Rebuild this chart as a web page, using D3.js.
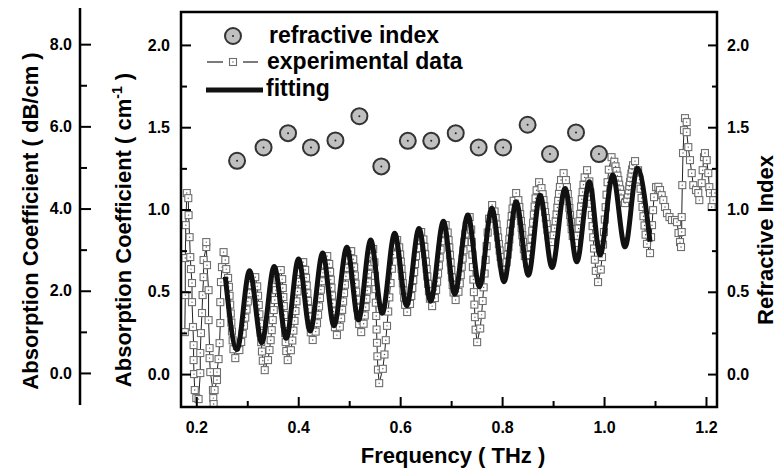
<!DOCTYPE html>
<html>
<head>
<meta charset="utf-8">
<script src="https://d3js.org/d3.v7.min.js"></script>
<style>
  body { margin: 0; background: #fff; }
  svg text { font-family: "Liberation Sans", Arial, sans-serif; font-weight: bold; fill: #000; }
</style>
</head>
<body>
<div id="chart"></div>
<script>
// tick values
const xTicks = [0.2, 0.4, 0.6, 0.8, 1.0, 1.2];
const xMinorTicks = [0.3, 0.5, 0.7, 0.9, 1.1];
const absTicks = [0.0, 0.5, 1.0, 1.5, 2.0];
const absMinorTicks = [0.25, 0.75, 1.25, 1.75];
const dbTicks = [0, 2, 4, 6, 8];
const dbMinorTicks = [1, 3, 5, 7];

// refractive index (circles)
const refFreq = [0.280, 0.332, 0.380, 0.425, 0.473, 0.520, 0.563, 0.615, 0.661, 0.709,
  0.754, 0.802, 0.850, 0.894, 0.945, 0.990];
const refIndex = [1.296, 1.377, 1.464, 1.377, 1.420, 1.567, 1.262, 1.417, 1.417, 1.464,
  1.377, 1.377, 1.515, 1.337, 1.468, 1.337];

// fitting curve, peaks and troughs
const fitFreq = [0.2569, 0.2798, 0.3045, 0.3284, 0.3529, 0.3765, 0.4006, 0.4235, 0.4480, 0.4700,
  0.4955, 0.5182, 0.5422, 0.5647, 0.5892, 0.6127, 0.6369, 0.6598, 0.6849, 0.7069,
  0.7329, 0.7555, 0.7798, 0.8039, 0.8275, 0.8516, 0.8745, 0.8980, 0.9235, 0.9465,
  0.9712, 0.9922, 1.0171, 1.0412, 1.0653, 1.0902];
const fitAbs = [0.591, 0.149, 0.628, 0.191, 0.654, 0.217, 0.700, 0.262, 0.735, 0.293,
  0.770, 0.328, 0.814, 0.369, 0.855, 0.416, 0.885, 0.443, 0.928, 0.486,
  0.966, 0.530, 1.007, 0.561, 1.047, 0.601, 1.087, 0.647, 1.128, 0.682,
  1.168, 0.723, 1.209, 0.773, 1.250, 0.804];

// experimental data (squares)
const expFreq = [
  0.1775,0.1784,0.1784,0.1794,0.1814,0.1843,0.1849,0.1869,0.1882,0.1896,0.1916,0.1916,0.1935,0.1947,0.1947,0.1955,0.1970,0.2000,0.2045,
  0.2078,0.2078,0.2092,0.2112,0.2124,0.2143,0.2143,0.2196,0.2196,
  0.2210,0.2241,0.2241,0.2261,0.2261,0.2275,0.2327,0.2333,0.2340,
  0.2359,0.2406,0.2406,0.2437,0.2457,0.2471,0.2471,0.2484,0.2504,0.2535,0.2569,0.2588,
  0.2624,0.2640,0.2653,0.2665,0.2677,0.2688,0.2700,0.2713,0.2729,0.2765,
  0.2845,0.2881,0.2910,0.2936,0.2961,0.2986,0.3012,0.3041,0.3077,0.3157,
  0.3195,0.3212,0.3226,0.3238,0.3250,0.3262,0.3274,0.3288,0.3305,0.3343,
  0.3407,0.3436,0.3459,0.3480,0.3500,0.3520,0.3541,0.3564,0.3593,0.3657,
  0.3685,0.3697,0.3708,0.3717,0.3726,0.3734,0.3743,0.3754,0.3766,0.3794,
  0.3856,0.3884,0.3906,0.3927,0.3946,0.3965,0.3986,0.4008,0.4036,0.4098,
  0.4136,0.4153,0.4167,0.4179,0.4191,0.4203,0.4215,0.4229,0.4246,0.4284,
  0.4342,0.4368,0.4389,0.4408,0.4427,0.4445,0.4464,0.4485,0.4511,0.4569,
  0.4608,0.4625,0.4639,0.4652,0.4664,0.4676,0.4689,0.4703,0.4720,0.4759,
  0.4816,0.4842,0.4862,0.4881,0.4899,0.4917,0.4936,0.4956,0.4982,0.5039,
  0.5079,0.5097,0.5111,0.5124,0.5137,0.5150,0.5163,0.5177,0.5195,0.5235,
  0.5283,0.5305,0.5322,0.5338,0.5353,0.5368,0.5384,0.5401,0.5423,0.5471,
  0.5495,0.5506,0.5514,0.5522,0.5530,0.5537,0.5545,0.5553,0.5564,0.5588,
  0.5660,0.5692,0.5718,0.5742,0.5765,0.5787,0.5811,0.5837,0.5869,0.5941,
  0.5981,0.5999,0.6013,0.6026,0.6039,0.6052,0.6065,0.6079,0.6097,0.6137,
  0.6193,0.6218,0.6238,0.6257,0.6275,0.6292,0.6311,0.6331,0.6356,0.6412,
  0.6456,0.6475,0.6491,0.6506,0.6520,0.6533,0.6548,0.6564,0.6583,0.6627,
  0.6681,0.6705,0.6725,0.6743,0.6760,0.6776,0.6794,0.6814,0.6838,0.6892,
  0.6932,0.6950,0.6964,0.6977,0.6990,0.7003,0.7016,0.7030,0.7048,0.7088,
  0.7144,0.7169,0.7189,0.7208,0.7226,0.7243,0.7262,0.7282,0.7307,0.7363,
  0.7393,0.7406,0.7417,0.7427,0.7437,0.7446,0.7456,0.7467,0.7480,0.7510,
  0.7570,0.7597,0.7618,0.7638,0.7657,0.7676,0.7696,0.7717,0.7744,0.7804,
  0.7852,0.7873,0.7891,0.7906,0.7922,0.7937,0.7952,0.7970,0.7991,0.8039,
  0.8087,0.8109,0.8126,0.8142,0.8157,0.8172,0.8188,0.8205,0.8227,0.8275,
  0.8319,0.8338,0.8354,0.8369,0.8383,0.8396,0.8411,0.8427,0.8446,0.8490,
  0.8538,0.8559,0.8577,0.8592,0.8608,0.8623,0.8638,0.8656,0.8677,0.8725,
  0.8773,0.8795,0.8812,0.8828,0.8843,0.8858,0.8874,0.8891,0.8913,0.8961,
  0.9011,0.9033,0.9051,0.9068,0.9084,0.9099,0.9116,0.9134,0.9156,0.9206,
  0.9252,0.9272,0.9289,0.9304,0.9319,0.9333,0.9348,0.9365,0.9385,0.9431,
  0.9479,0.9501,0.9518,0.9534,0.9549,0.9564,0.9580,0.9597,0.9619,0.9667,
  0.9711,0.9730,0.9746,0.9761,0.9775,0.9788,0.9803,0.9819,0.9838,0.9882,
  0.9936,0.9960,0.9980,0.9998,1.0015,1.0031,1.0049,1.0069,1.0093,1.0147,
  1.0201,1.0225,1.0245,1.0263,1.0280,1.0296,1.0314,1.0334,1.0358,1.0412,
  1.0452,1.0470,1.0484,1.0497,1.0510,1.0523,1.0536,1.0550,1.0568,1.0608,
  1.0668,1.0695,1.0716,1.0736,1.0755,1.0774,1.0794,1.0815,1.0842,1.0902,
  1.0922,1.0941,1.0961,1.0980,1.1020,1.1065,1.1098,1.1131,1.1163,1.1196,
  1.1235,1.1284,1.1333,1.1392,1.1431,1.1461,1.1490,1.1510,1.1524,1.1524,
  1.1535,1.1549,1.1569,1.1588,1.1621,1.1621,1.1653,1.1686,1.1720,1.1751,
  1.1804,1.1849,1.1869,1.1916,1.1935,1.1961,1.1980,1.2014,1.2045,1.2065,
  1.2078,1.2112,1.2143,1.2176
];
const expAbs = [
  0.255,0.480,0.705,0.905,1.100,1.069,0.966,0.832,0.711,0.638,0.553,0.437,0.286,0.176,0.085,0.000,-0.097,-0.146,-0.152,
  0.006,0.128,0.249,0.371,0.480,0.589,0.693,0.772,0.802,
  0.662,0.510,0.328,0.158,0.097,0.012,-0.097,-0.146,-0.182,
  -0.097,-0.036,0.012,0.091,0.188,0.310,0.437,0.559,0.650,0.741,0.693,0.638,
  0.584,0.530,0.476,0.422,0.368,0.313,0.259,0.205,0.151,0.097,
  0.146,0.195,0.245,0.294,0.343,0.392,0.441,0.491,0.540,0.589,
  0.533,0.476,0.420,0.363,0.307,0.250,0.194,0.137,0.081,0.024,
  0.085,0.146,0.206,0.267,0.328,0.389,0.450,0.510,0.571,0.632,
  0.577,0.523,0.468,0.413,0.359,0.304,0.249,0.194,0.140,0.085,
  0.145,0.204,0.264,0.323,0.383,0.442,0.502,0.561,0.621,0.680,
  0.633,0.585,0.538,0.491,0.444,0.396,0.349,0.302,0.254,0.207,
  0.258,0.309,0.360,0.411,0.462,0.513,0.564,0.615,0.666,0.717,
  0.669,0.621,0.573,0.525,0.477,0.429,0.381,0.333,0.285,0.237,
  0.288,0.339,0.390,0.441,0.492,0.543,0.594,0.645,0.696,0.747,
  0.698,0.649,0.599,0.550,0.501,0.452,0.403,0.354,0.304,0.255,
  0.306,0.356,0.407,0.457,0.508,0.558,0.609,0.659,0.710,0.760,
  0.679,0.597,0.516,0.434,0.353,0.271,0.190,0.108,0.027,-0.055,
  0.032,0.119,0.206,0.293,0.380,0.466,0.553,0.640,0.727,0.814,
  0.770,0.727,0.683,0.639,0.596,0.552,0.508,0.464,0.421,0.377,
  0.426,0.474,0.523,0.571,0.620,0.669,0.717,0.766,0.814,0.863,
  0.818,0.773,0.728,0.683,0.638,0.593,0.548,0.503,0.458,0.413,
  0.462,0.511,0.561,0.610,0.659,0.708,0.757,0.807,0.856,0.905,
  0.860,0.814,0.769,0.723,0.678,0.632,0.587,0.541,0.496,0.450,
  0.500,0.551,0.601,0.652,0.702,0.752,0.803,0.853,0.904,0.954,
  0.878,0.802,0.726,0.650,0.574,0.498,0.422,0.346,0.270,0.194,
  0.277,0.360,0.444,0.527,0.611,0.694,0.777,0.860,0.944,1.027,
  0.988,0.948,0.909,0.869,0.830,0.790,0.751,0.711,0.672,0.632,
  0.679,0.726,0.772,0.819,0.866,0.913,0.960,1.006,1.053,1.100,
  1.057,1.015,0.972,0.930,0.887,0.844,0.802,0.759,0.717,0.674,
  0.723,0.772,0.822,0.871,0.920,0.969,1.018,1.068,1.117,1.166,
  1.130,1.093,1.057,1.020,0.984,0.948,0.911,0.875,0.838,0.802,
  0.844,0.886,0.928,0.970,1.012,1.053,1.095,1.137,1.179,1.221,
  1.179,1.136,1.094,1.051,1.009,0.966,0.924,0.881,0.839,0.796,
  0.840,0.885,0.929,0.973,1.018,1.062,1.106,1.150,1.195,1.239,
  1.171,1.103,1.035,0.967,0.899,0.831,0.763,0.695,0.627,0.559,
  0.635,0.711,0.787,0.863,0.939,1.014,1.090,1.166,1.242,1.318,
  1.290,1.262,1.234,1.206,1.179,1.151,1.123,1.095,1.067,1.039,
  1.065,1.090,1.116,1.141,1.167,1.192,1.218,1.243,1.269,1.294,
  1.238,1.182,1.126,1.070,1.015,0.959,0.903,0.847,0.791,0.735,
  0.832,0.905,0.996,1.075,1.136,1.138,1.118,1.087,1.057,1.015,
  0.978,0.954,0.936,0.936,0.923,0.857,0.802,0.772,0.863,0.954,
  1.148,1.343,1.482,1.555,1.531,1.470,1.379,1.300,1.221,1.148,
  1.118,1.100,1.057,1.160,1.239,1.318,1.343,1.300,1.221,1.136,
  1.100,1.015,1.057,1.100
];

const W = 782, H = 474;
const plot = { left: 181, top: 12, right: 717, bottom: 407 };
const FONT = '"Liberation Sans", Arial, sans-serif';

const svg = d3.select('#chart').append('svg')
  .attr('width', W)
  .attr('height', H);

const x = d3.scaleLinear().domain([0.17, 1.2216]).range([plot.left, plot.right]);
const yAbs = d3.scaleLinear().domain([-0.2, 2.2]).range([plot.bottom, plot.top]);
const yRef = d3.scaleLinear().domain([-0.2, 2.2]).range([plot.bottom, plot.top]);
const yDb = d3.scaleLinear().domain([-0.78, 8.88]).range([405, 8]);

function styleAxis(g) {
  g.attr('font-size', 16).attr('font-family', FONT).attr('font-weight', 'bold');
  g.select('path.domain').remove();
  g.selectAll('line').attr('stroke', '#000').attr('stroke-width', 2);
}

// clip for data
svg.append('clipPath').attr('id', 'clip')
  .append('rect')
  .attr('x', plot.left).attr('y', plot.top)
  .attr('width', plot.right - plot.left).attr('height', plot.bottom - plot.top);

const data = svg.append('g').attr('clip-path', 'url(#clip)');

// experimental data
const expPts = expFreq.map((f, i) => ({ f: f, v: expAbs[i] }));

data.append('path')
  .datum(expPts)
  .attr('fill', 'none')
  .attr('stroke', '#222')
  .attr('stroke-width', 1)
  .attr('d', d3.line().x(d => x(d.f)).y(d => yAbs(d.v)));

const sq = 7;
const squares = data.append('g').selectAll('g').data(expPts).join('g')
  .attr('transform', d => `translate(${x(d.f)},${yAbs(d.v)})`);
squares.append('rect')
  .attr('x', -sq / 2).attr('y', -sq / 2)
  .attr('width', sq).attr('height', sq)
  .attr('fill', '#fff')
  .attr('stroke', '#6e6e6e')
  .attr('stroke-width', 1.1);
squares.append('circle')
  .attr('r', 0.7)
  .attr('fill', '#555');

// fitting
const fitPts = fitFreq.map((f, i) => ({ f: f, v: fitAbs[i] }));
data.append('path')
  .datum(fitPts)
  .attr('fill', 'none')
  .attr('stroke', '#111')
  .attr('stroke-width', 5)
  .attr('stroke-linejoin', 'round')
  .attr('d', d3.line().curve(d3.curveMonotoneX).x(d => x(d.f)).y(d => yAbs(d.v)));

// refractive index
const refPts = refFreq.map((f, i) => ({ f: f, v: refIndex[i] }));
const circ = data.append('g').selectAll('g').data(refPts).join('g')
  .attr('transform', d => `translate(${x(d.f)},${yRef(d.v)})`);
circ.append('circle')
  .attr('r', 8)
  .attr('fill', '#c0c0c0')
  .attr('stroke', '#333')
  .attr('stroke-width', 2);
circ.append('circle')
  .attr('r', 1)
  .attr('fill', '#222');

// axes
svg.append('g')
  .attr('transform', `translate(0,${plot.bottom})`)
  .call(d3.axisBottom(x).tickValues(xTicks).tickFormat(d3.format('.1f')).tickSize(-10).tickPadding(15))
  .call(styleAxis);
svg.append('g')
  .attr('transform', `translate(0,${plot.bottom})`)
  .call(d3.axisBottom(x).tickValues(xMinorTicks).tickFormat('').tickSize(-6))
  .call(styleAxis);

svg.append('g')
  .attr('transform', `translate(${plot.left},0)`)
  .call(d3.axisLeft(yAbs).tickValues(absTicks).tickFormat(d3.format('.1f')).tickSize(-10).tickPadding(11))
  .call(styleAxis);
svg.append('g')
  .attr('transform', `translate(${plot.left},0)`)
  .call(d3.axisLeft(yAbs).tickValues(absMinorTicks).tickFormat('').tickSize(-6))
  .call(styleAxis);

svg.append('g')
  .attr('transform', `translate(${plot.right},0)`)
  .call(d3.axisRight(yRef).tickValues(absTicks).tickFormat(d3.format('.1f')).tickSize(-9).tickPadding(10))
  .call(styleAxis);
svg.append('g')
  .attr('transform', `translate(${plot.right},0)`)
  .call(d3.axisRight(yRef).tickValues(absMinorTicks).tickFormat('').tickSize(-5))
  .call(styleAxis);

// outer dB/cm axis
const dbX = 80;
svg.append('line')
  .attr('x1', dbX).attr('x2', dbX)
  .attr('y1', yDb.range()[0]).attr('y2', yDb.range()[1])
  .attr('stroke', '#000').attr('stroke-width', 2.5);
svg.append('g')
  .attr('transform', `translate(${dbX},0)`)
  .call(d3.axisLeft(yDb).tickValues(dbTicks).tickFormat(d3.format('.1f')).tickSize(-11).tickPadding(8))
  .call(styleAxis);
svg.append('g')
  .attr('transform', `translate(${dbX},0)`)
  .call(d3.axisLeft(yDb).tickValues(dbMinorTicks).tickFormat('').tickSize(-7))
  .call(styleAxis);

// frame
svg.append('rect')
  .attr('x', plot.left).attr('y', plot.top)
  .attr('width', plot.right - plot.left).attr('height', plot.bottom - plot.top)
  .attr('fill', 'none')
  .attr('stroke', '#000')
  .attr('stroke-width', 2.5);

// axis titles
svg.append('text')
  .attr('x', 453).attr('y', 463)
  .attr('text-anchor', 'middle')
  .attr('font-size', 22)
  .text('Frequency ( THz )');

svg.append('text')
  .attr('transform', 'translate(38,221) rotate(-90)')
  .attr('text-anchor', 'middle')
  .attr('font-size', 22)
  .text('Absorption Coefficient ( dB/cm )');

const t2 = svg.append('text')
  .attr('transform', 'translate(131,230) rotate(-90)')
  .attr('text-anchor', 'middle')
  .attr('font-size', 22);
t2.append('tspan').text('Absorption Coefficient ( cm');
t2.append('tspan').attr('font-size', 14).attr('dy', -9).text('-1');
t2.append('tspan').attr('dy', 9).text(' )');

svg.append('text')
  .attr('transform', 'translate(773,240) rotate(-90)')
  .attr('text-anchor', 'middle')
  .attr('font-size', 22)
  .text('Refractive Index');

// legend
const leg = svg.append('g').attr('font-size', 23);
leg.append('circle').attr('cx', 233).attr('cy', 36).attr('r', 8)
  .attr('fill', '#c0c0c0').attr('stroke', '#333').attr('stroke-width', 2);
leg.append('circle').attr('cx', 233).attr('cy', 36).attr('r', 1).attr('fill', '#222');
leg.append('text').attr('x', 269).attr('y', 42.5).text('refractive index');

leg.append('line').attr('x1', 207).attr('x2', 223).attr('y1', 62).attr('y2', 62)
  .attr('stroke', '#222').attr('stroke-width', 1.2);
leg.append('line').attr('x1', 243).attr('x2', 258).attr('y1', 62).attr('y2', 62)
  .attr('stroke', '#222').attr('stroke-width', 1.2);
leg.append('rect').attr('x', 233 - sq / 2).attr('y', 62 - sq / 2).attr('width', sq).attr('height', sq)
  .attr('fill', '#fff').attr('stroke', '#6e6e6e').attr('stroke-width', 1.1);
leg.append('circle').attr('cx', 233).attr('cy', 62).attr('r', 0.7).attr('fill', '#555');
leg.append('text').attr('x', 267).attr('y', 69).text('experimental data');

leg.append('line').attr('x1', 206).attr('x2', 263).attr('y1', 90).attr('y2', 90)
  .attr('stroke', '#111').attr('stroke-width', 5);
leg.append('text').attr('x', 266).attr('y', 95.5).text('fitting');
</script>
</body>
</html>
